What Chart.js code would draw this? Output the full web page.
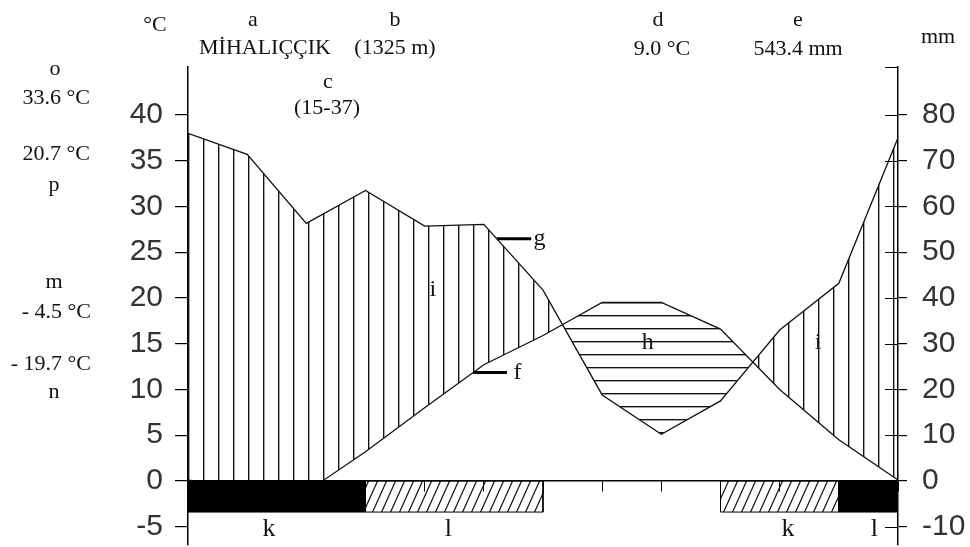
<!DOCTYPE html>
<html><head><meta charset="utf-8">
<script src="https://cdn.jsdelivr.net/npm/chart.js@4.4.1/dist/chart.umd.min.js"></script>
<style>html,body{margin:0;padding:0;background:#fff;}#wrap{width:970px;height:547px;position:relative;}</style>
</head><body><div id="wrap"><canvas id="c"></canvas></div>
<script>
// ---- data (13 points: Jan..Dec plus January repeated at the right edge) ----
const monthIndex = [0,1,2,3,4,5,6,7,8,9,10,11,12];
const temperatureC = [0.1,-0.6,-1.2,3.2,8.0,12.7,15.9,19.5,19.5,16.6,10.0,4.5,0.1];
const precipitationMm = [76.0,71.4,56.3,63.5,55.7,56.1,41.7,18.8,10.2,17.5,33.0,43.2,75.0];
// frost by month Jan..Dec: 'sure' (black), 'prob' (hatched), '' none
const frostMonths = ['sure','sure','sure','prob','prob','prob','','','','prob','prob','sure'];
const tempTicks = [-5,0,5,10,15,20,25,30,35,40];
const precipTicks = [-10,0,10,20,30,40,50,60,70,80];
const headerLetters = ['a','b','c','d','e'];
const headerValues = ['MİHALIÇÇIK','(1325 m)','(15-37)','9.0 °C','543.4 mm'];
const sideLetters = ['o','p','m','n'];
const sideValues = ['33.6 °C','20.7 °C','- 4.5 °C','- 19.7 °C'];
const axisUnits = ['°C','mm'];
const areaLetters = ['i','h','i','g','f'];
const frostLetters = ['k','l','k','l'];

// ---- patterns ----
function makePattern(w,h,draw){const c=document.createElement('canvas');c.width=w;c.height=h;const g=c.getContext('2d');draw(g);return g.createPattern(c,'repeat');}
const vPat = makePattern(15,4,g=>{g.fillStyle='#111';g.fillRect(8,0,1,4);g.fillStyle='rgba(0,0,0,0.35)';g.fillRect(9,0,1,4);});
const hPat = makePattern(4,13,g=>{g.fillStyle='#111';g.fillRect(0,3,4,1);g.fillStyle='rgba(0,0,0,0.35)';g.fillRect(0,4,4,1);});
const dPat = makePattern(9,20,g=>{g.strokeStyle='#111';g.lineWidth=1.2;for(const x0 of [-9,0,9]){g.beginPath();g.moveTo(x0,20);g.lineTo(x0+9,0);g.stroke();}});

// ---- frost blocks built from frostMonths ----
const FROST_DEPTH = -3.4;
const frostSets = [];
(function(){
  let i=0;
  while(i<frostMonths.length){
    const t=frostMonths[i];
    if(!t){i++;continue;}
    let j=i;while(j+1<frostMonths.length&&frostMonths[j+1]===t)j++;
    const s=i,e=j+1;
    frostSets.push({data:[{x:s,y:0},{x:e,y:0},{x:e,y:FROST_DEPTH},{x:s,y:FROST_DEPTH},{x:s,y:0}],
      yAxisID:'y',borderColor:'#000',borderWidth:1,pointRadius:0,tension:0,
      backgroundColor:t==='sure'?'#000':dPat,fill:'shape',order:-2});
    i=j+1;
  }
})();
const tempIdx = frostSets.length+1;

function interp(arr,x){const i=Math.min(Math.floor(x),arr.length-2);const f=x-i;return arr[i]+(arr[i+1]-arr[i])*f;}

const tickFont = {family:"'Liberation Sans', Arial, sans-serif", size:30};
const SERIF = "'Liberation Serif', 'Times New Roman', serif";

const extras = {
  id:'extras',
  afterDraw(chart){
    const ctx=chart.ctx, ca=chart.chartArea, sx=chart.scales.x, sy=chart.scales.y, sy2=chart.scales.y2;
    ctx.save();
    ctx.strokeStyle='#000';ctx.lineWidth=1.2;
    ctx.beginPath();
    for(const v of precipTicks){const p=Math.round(sy2.getPixelForValue(v))+0.5;ctx.moveTo(ca.right-13,p);ctx.lineTo(ca.right,p);}
    ctx.moveTo(ca.right-13,ca.top+0.5);ctx.lineTo(ca.right,ca.top+0.5);
    ctx.stroke();
    ctx.lineWidth=3;
    const pm = precipitationMm;
    const gx0=5.22,gx1=5.8, gy=sy2.getPixelForValue(interp(pm,gx0));
    ctx.beginPath();ctx.moveTo(sx.getPixelForValue(gx0),gy);ctx.lineTo(sx.getPixelForValue(gx1),gy);ctx.stroke();
    const fx0=4.82,fx1=5.39, fy=sy.getPixelForValue(interp(temperatureC,fx0));
    ctx.beginPath();ctx.moveTo(sx.getPixelForValue(fx0),fy);ctx.lineTo(sx.getPixelForValue(fx1),fy);ctx.stroke();
    ctx.fillStyle='#111';
    ctx.font='22px '+SERIF;ctx.textBaseline='alphabetic';
    const T=(s,x,y,al)=>{ctx.textAlign=al||'center';ctx.fillText(s,x,y);};
    T(axisUnits[0],155,31);T(axisUnits[1],938,43);
    T(headerLetters[0],253,26);T(headerValues[0],265,54);
    T(headerLetters[1],395,26);T(headerValues[1],395,54);
    T(headerLetters[2],328,88);T(headerValues[2],327,114);
    T(headerLetters[3],658,26);T(headerValues[3],662,55);
    T(headerLetters[4],798,26);T(headerValues[4],798,55);
    T(sideLetters[0],55,75);T(sideValues[0],90,104,'right');
    T(sideValues[1],90,160,'right');T(sideLetters[1],54,191);
    T(sideLetters[2],54,288);T(sideValues[2],91,318,'right');
    T(sideValues[3],91,370,'right');T(sideLetters[3],54,398);
    ctx.textBaseline='middle';ctx.textAlign='center';
    ctx.font='24px '+SERIF;
    const P=(s,x,y,ax)=>ctx.fillText(s,sx.getPixelForValue(x),(ax||sy).getPixelForValue(y));
    P(areaLetters[0],4.14,20.9);P(areaLetters[1],7.77,15.1);P(areaLetters[2],10.65,15.1);
    ctx.textAlign='left';
    ctx.fillText(areaLetters[3],sx.getPixelForValue(5.84),gy);
    ctx.fillText(areaLetters[4],sx.getPixelForValue(5.5),fy);
    ctx.textAlign='center';ctx.font='26px '+SERIF;
    P(frostLetters[0],1.37,-5.25);P(frostLetters[1],4.4,-5.25);P(frostLetters[2],10.14,-5.25);P(frostLetters[3],11.6,-5.25);
    ctx.restore();
  }
};

new Chart(document.getElementById('c'),{
  type:'line',
  data:{datasets:[
    ...frostSets,
    {label:'precipitation',data:monthIndex.map((x,i)=>({x,y:precipitationMm[i]})),yAxisID:'y2',
     borderColor:'#111',borderWidth:1.3,pointRadius:0,tension:0,
     fill:{target:tempIdx,above:vPat,below:hPat},order:0},
    {label:'temperature',data:monthIndex.map((x,i)=>({x,y:temperatureC[i]})),yAxisID:'y',
     borderColor:'#111',borderWidth:1.3,pointRadius:0,tension:0,fill:false,order:1}
  ]},
  options:{
    responsive:true,maintainAspectRatio:false,animation:false,devicePixelRatio:1,
    layout:{padding:{top:67,bottom:2,left:0,right:0}},
    plugins:{legend:{display:false},tooltip:{enabled:false},filler:{drawTime:'beforeDatasetDraw',propagate:false}},
    scales:{
      x:{type:'linear',min:0,max:12,position:{y:0},
        afterFit:s=>{s.height=0;s.paddingLeft=0;s.paddingRight=0;},
        ticks:{display:false,stepSize:1},
        grid:{drawOnChartArea:false,drawTicks:true,tickLength:10,color:'#000',lineWidth:1},
        border:{display:true,color:'#000',width:1.5}},
      y:{type:'linear',position:'left',min:-7,max:45.24,
        afterBuildTicks:s=>{s.ticks=tempTicks.map(v=>({value:v}));},
        afterFit:s=>{s.width=188;s.paddingTop=0;s.paddingBottom=0;},
        ticks:{font:tickFont,color:'#333',padding:12},
        grid:{drawOnChartArea:false,tickLength:13,color:'#000',lineWidth:1.2},
        border:{color:'#000',width:1.5}},
      y2:{type:'linear',position:'right',min:-14,max:90.48,
        afterBuildTicks:s=>{s.ticks=precipTicks.map(v=>({value:v}));},
        afterFit:s=>{s.width=72;s.paddingTop=0;s.paddingBottom=0;},
        ticks:{font:tickFont,color:'#333',padding:15},
        grid:{drawOnChartArea:false,tickLength:9,color:'#000',lineWidth:1.2},
        border:{color:'#000',width:1.5}}
    }
  },
  plugins:[extras]
});
</script></body></html>
